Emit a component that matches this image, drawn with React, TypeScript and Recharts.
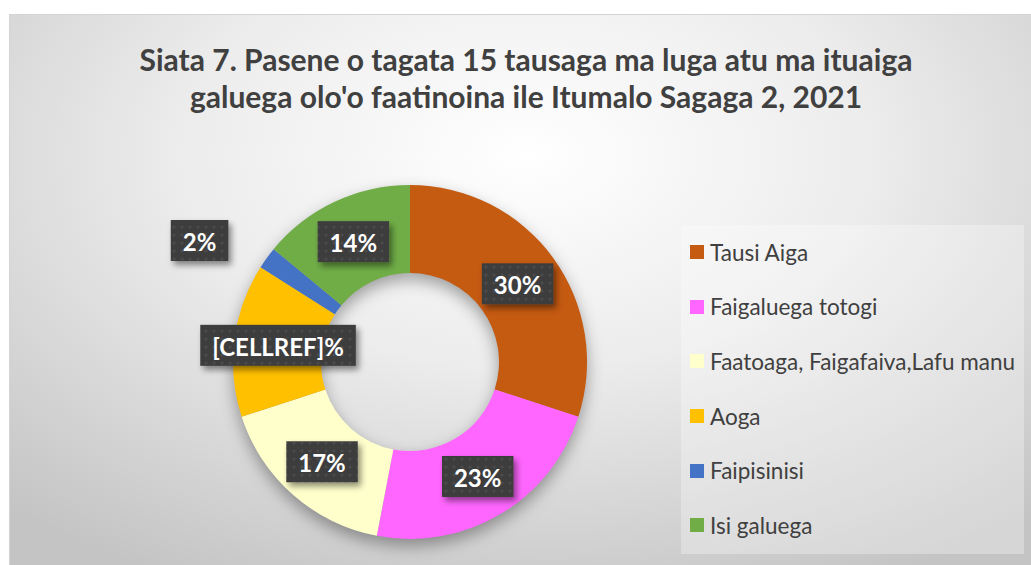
import React, { useLayoutEffect, useRef, useState } from 'react';
import { PieChart, Pie, Cell, Legend } from 'recharts';

const categories = [
    'Tausi Aiga',
    'Faigaluega totogi',
    'Faatoaga, Faigafaiva,Lafu manu',
    'Aoga',
    'Faipisinisi',
    'Isi galuega',
];
const shares = [30, 23, 17, 14, 2, 14];
const labelTexts = ['30%', '23%', '17%', '[CELLREF]%', '2%', '14%'];
const colors = ['#C55A11', '#FF66FF', '#FFFFCC', '#FFC000', '#4472C4', '#70AD47'];

const data = categories.map((name, i) => ({ name, value: shares[i] }));

const FONT = 'Lato, "Noto Sans", sans-serif';
const RADIAN = Math.PI / 180;

function LabelBox(props: any) {
    const { cx, cy, midAngle, innerRadius, outerRadius, percent, index } = props;
    const textRef = useRef<SVGTextElement>(null);
    const [w, setW] = useState(0);
    useLayoutEffect(() => {
        if (textRef.current) setW(textRef.current.getBBox().width);
    }, []);

    // tiny slices get their label pushed out of the ring, like the original
    const small = percent < 0.05;
    const r = small ? outerRadius + 66 : (innerRadius + outerRadius) / 2;
    const a = (small ? midAngle + 6 : midAngle) * RADIAN;
    const x = cx + r * Math.cos(a);
    const y = cy - r * Math.sin(a);
    const bw = w + 24;
    const bh = 41;

    return (
        <g>
            <rect x={x - bw / 2} y={y - bh / 2} width={bw} height={bh} fill="url(#dots)" filter="url(#boxShadow)" />
            <text
                ref={textRef}
                x={x}
                y={y + 1}
                textAnchor="middle"
                dominantBaseline="central"
                fill="#ffffff"
                fontFamily={FONT}
                fontWeight={700}
                fontSize={24}
            >
                {labelTexts[index]}
            </text>
        </g>
    );
}

function LegendBox() {
    return (
        <div style={{ width: 343, height: 329, background: 'rgba(255,255,255,0.3)', boxSizing: 'border-box' }}>
            {categories.map((name, i) => (
                <div key={name} style={{ display: 'flex', alignItems: 'center', height: 54.6, paddingLeft: 9 }}>
                    <span style={{ width: 14, height: 14, background: colors[i], display: 'inline-block', marginRight: 6 }} />
                    <span style={{ fontFamily: FONT, fontSize: 22.5, color: '#404040' }}>{name}</span>
                </div>
            ))}
        </div>
    );
}

export default function App() {
    return (
        <div>
            <style>{`body { margin: 0; overflow: hidden; }`}</style>
            <svg width={0} height={0} style={{ position: 'absolute' }}>
                <defs>
                    <pattern id="dots" width={8} height={8} patternUnits="userSpaceOnUse">
                        <rect width={8} height={8} fill="#3d3d3d" />
                        <circle cx={4} cy={4} r={1.6} fill="#4c4c4c" />
                    </pattern>
                    <filter id="boxShadow" x="-20%" y="-30%" width="150%" height="170%">
                        <feDropShadow dx={3} dy={4} stdDeviation={3} floodColor="#000" floodOpacity={0.45} />
                    </filter>
                    <filter id="pieShadow" x="-30%" y="-30%" width="160%" height="160%">
                        <feOffset dx={0} dy={7} />
                        <feGaussianBlur stdDeviation={8} />
                    </filter>
                </defs>
            </svg>
            <div
                style={{
                    position: 'absolute',
                    left: 9,
                    top: 14,
                    width: 1032,
                    height: 560,
                    borderTop: '1px solid #d4d4d4',
                    borderLeft: '1px solid #d4d4d4',
                    background: 'radial-gradient(ellipse 75% 85% at 50% 25%, #ffffff 0%, #ececec 45%, #d6d6d6 75%, #c4c4c4 100%)',
                }}
            >
                <div
                    style={{
                        position: 'absolute',
                        top: 26,
                        left: 0,
                        width: 1032,
                        textAlign: 'center',
                        fontFamily: FONT,
                        fontWeight: 700,
                        fontSize: 30,
                        lineHeight: '37px',
                        color: '#404040',
                    }}
                >
                    Siata 7. Pasene o tagata 15 tausaga ma luga atu ma ituaiga
                    <br />
                    galuega olo'o faatinoina ile Itumalo Sagaga 2, 2021
                </div>
                <PieChart width={1032} height={560} margin={{ top: 0, right: 0, bottom: 0, left: 0 }}>
                    {/* soft shadow under the ring */}
                    <Pie
                        data={data}
                        dataKey="value"
                        cx={400}
                        cy={347}
                        innerRadius={89}
                        outerRadius={177}
                        startAngle={90}
                        endAngle={-270}
                        stroke="none"
                        legendType="none"
                        isAnimationActive={false}
                    >
                        {data.map((d) => (
                            <Cell key={d.name} fill="#000000" fillOpacity={0.35} filter="url(#pieShadow)" />
                        ))}
                    </Pie>
                    <Pie
                        data={data}
                        dataKey="value"
                        nameKey="name"
                        cx={400}
                        cy={347}
                        innerRadius={89}
                        outerRadius={177}
                        startAngle={90}
                        endAngle={-270}
                        stroke="none"
                        labelLine={false}
                        label={(p: any) => <LabelBox {...p} />}
                        isAnimationActive={false}
                    >
                        {data.map((d, i) => (
                            <Cell key={d.name} fill={colors[i]} />
                        ))}
                    </Pie>
                    <Legend
                        layout="vertical"
                        align="right"
                        verticalAlign="top"
                        content={<LegendBox />}
                        wrapperStyle={{ left: 671, top: 210, width: 343, height: 329 }}
                    />
                </PieChart>
            </div>
        </div>
    );
}
